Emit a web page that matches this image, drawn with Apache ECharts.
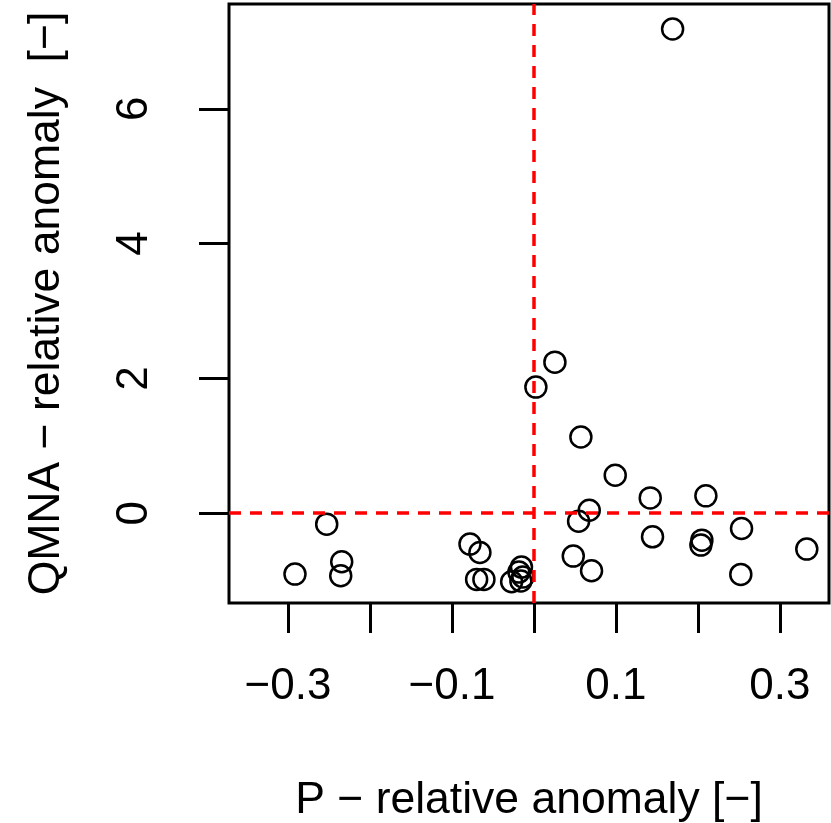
<!DOCTYPE html>
<html>
<head>
<meta charset="utf-8">
<script src="https://cdn.jsdelivr.net/npm/echarts@6/dist/echarts.min.js"></script>
<style>
html,body{margin:0;padding:0;background:#fff;}
#chart{width:831px;height:823px;}
</style>
</head>
<body>
<div id="chart"></div>
<script>
// P relative anomaly (x) and QMNA relative anomaly (y)
const pAnomaly = [
  -0.2915, -0.2528, -0.2345, -0.2357, -0.0780, -0.0659, -0.0699, -0.0610, -0.0272,
  -0.0152, -0.0183, -0.0134, -0.0159,
  0.0256, 0.0024, 0.0573, 0.0992, 0.1419, 0.2098, 0.0675, 0.0545, 0.1447, 0.2049,
  0.2037, 0.2533, 0.3329, 0.0480, 0.0703, 0.2524, 0.1692
];
const qmnaAnomaly = [
  -0.904, -0.163, -0.721, -0.928, -0.459, -0.583, -0.983, -0.983, -1.017,
  -0.800, -0.874, -0.948, -1.007,
  2.241, 1.871, 1.131, 0.563, 0.227, 0.257, 0.044, -0.119, -0.351, -0.400,
  -0.474, -0.227, -0.533, -0.637, -0.854, -0.909, 7.185
];
const xTicks = [-0.3, -0.2, -0.1, 0, 0.1, 0.2, 0.3];
const xTickLabels = [-0.3, -0.1, 0.1, 0.3];
const yTicks = [0, 2, 4, 6];
const xTitle = 'P \u2212 relative anomaly [\u2212]';
const yTitle = 'QMNA \u2212 relative anomaly  [\u2212]';

const fmt = v => (v < 0 ? '\u2212' + String(Math.abs(+v.toFixed(2))) : String(+(+v).toFixed(2)));
const FONT = 'Liberation Sans, Arial, sans-serif';

const chart = echarts.init(document.getElementById('chart'), null, {renderer: 'canvas'});
chart.setOption({
  animation: false,
  backgroundColor: '#fff',
  grid: {left: 229, right: 2, top: 4, bottom: 220, outerBoundsMode: 'none', containLabel: false,
         show: true, borderColor: '#000', borderWidth: 3, backgroundColor: 'transparent'},
  xAxis: {
    type: 'value', min: -0.372, max: 0.360,
    axisLine: {show: false, onZero: false},
    splitLine: {show: false},
    axisTick: {show: true, inside: false, length: 30, customValues: xTicks, lineStyle: {color: '#000', width: 3}},
    axisLabel: {show: true, customValues: xTickLabels, formatter: fmt, fontSize: 44, color: '#000', fontFamily: FONT, margin: 62},
    name: xTitle, nameLocation: 'middle', nameGap: 175,
    nameTextStyle: {fontSize: 44.5, color: '#000', fontFamily: FONT}
  },
  yAxis: {
    type: 'value', min: -1.333, max: 7.556,
    axisLine: {show: false, onZero: false},
    splitLine: {show: false},
    axisTick: {show: true, inside: false, length: 30, customValues: yTicks, lineStyle: {color: '#000', width: 3}},
    axisLabel: {show: true, customValues: yTicks, formatter: fmt, rotate: 90, fontSize: 44, color: '#000', fontFamily: FONT, margin: 72},
    name: yTitle, nameLocation: 'middle', nameGap: 160,
    nameTextStyle: {fontSize: 44.5, color: '#000', fontFamily: FONT}
  },
  series: [{
    type: 'scatter',
    data: pAnomaly.map((x, i) => [x, qmnaAnomaly[i]]),
    symbol: 'circle', symbolSize: 21,
    itemStyle: {color: 'rgba(0,0,0,0)', borderColor: '#000', borderWidth: 2.5, opacity: 1},
    emphasis: {disabled: true},
    markLine: {
      silent: true, symbol: 'none', label: {show: false},
      lineStyle: {color: '#ff0000', type: [12, 9], width: 3.5, opacity: 1},
      data: [{xAxis: 0}, {yAxis: 0}]
    },
    z: 3
  }]
});
</script>
</body>
</html>
